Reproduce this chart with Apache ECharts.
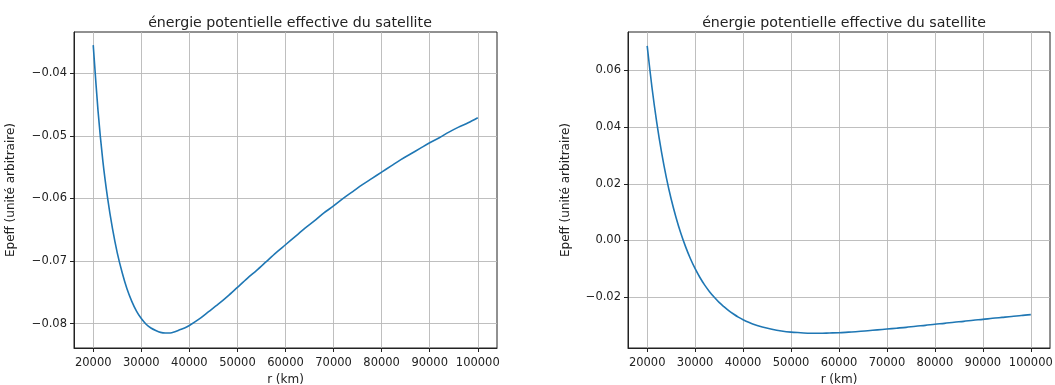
<!DOCTYPE html>
<html>
<head>
<meta charset="utf-8">
<script src="https://cdn.jsdelivr.net/npm/echarts@6/dist/echarts.min.js"></script>
<style>
  html, body { margin: 0; padding: 0; background: #fff; }
  #chart { width: 1055px; height: 385px; }
</style>
</head>
<body>
<div id="chart"></div>
<script>
const FONT = 'DejaVu Sans, sans-serif'

// r (km)
const rKm = [
  20000, 21000, 22000, 23000, 24000, 25000, 26000, 27000, 28000, 29000, 30000,
  31000, 32000, 33000, 34000, 35000, 36000, 37000, 38000, 39000, 40000,
  42000, 44000, 46000, 48000, 50000, 52000, 54000, 56000, 58000, 60000,
  62000, 64000, 66000, 68000, 70000, 72000, 74000, 76000, 78000, 80000,
  82000, 84000, 86000, 88000, 90000, 92000, 94000, 96000, 98000, 100000,
]
// Epeff, graphique de gauche
const epeffLeft = [
  -0.0355, -0.0460, -0.0540, -0.0600, -0.0648, -0.0687, -0.0718, -0.0744, -0.0764, -0.0780, -0.0792,
  -0.0801, -0.0807, -0.0811, -0.0814, -0.0815, -0.0815, -0.0813, -0.0810, -0.0807, -0.0803,
  -0.0793, -0.0781, -0.0769, -0.0756, -0.0742, -0.0728, -0.0715, -0.0701, -0.0687, -0.0674,
  -0.0661, -0.0648, -0.0636, -0.0623, -0.0612, -0.0600, -0.0589, -0.0578, -0.0568, -0.0558,
  -0.0548, -0.0538, -0.0529, -0.0520, -0.0511, -0.0503, -0.0494, -0.0486, -0.0479, -0.0471,
]
// Epeff, graphique de droite
const epeffRight = [
  0.0687, 0.0540, 0.0416, 0.0311, 0.0222, 0.0146, 0.0082, 0.0026, -0.0022, -0.0064, -0.0100,
  -0.0131, -0.0158, -0.0181, -0.0201, -0.0219, -0.0234, -0.0248, -0.0260, -0.0271, -0.0280,
  -0.0295, -0.0306, -0.0314, -0.0320, -0.0324, -0.0326, -0.0328, -0.0328, -0.0327, -0.0326,
  -0.0324, -0.0322, -0.0319, -0.0316, -0.0313, -0.0310, -0.0307, -0.0303, -0.0300, -0.0296,
  -0.0293, -0.0289, -0.0286, -0.0282, -0.0279, -0.0275, -0.0272, -0.0269, -0.0265, -0.0262,
]

const xTicks = [20000, 30000, 40000, 50000, 60000, 70000, 80000, 90000, 100000]
const yTicksLeft = [-0.08, -0.07, -0.06, -0.05, -0.04]
const yTicksRight = [-0.02, 0.0, 0.02, 0.04, 0.06]

const TITLE = 'énergie potentielle effective du satellite'
const X_NAME = 'r (km)'
const Y_NAME = 'Epeff (unité arbitraire)'

const fmtY = (v) => v.toFixed(2).replace('-', '\u2212')

const grids = [
  { left: 74, top: 32, width: 423, height: 316 },
  { left: 628, top: 32, width: 422, height: 316 },
]

const makeX = (gridIndex) => ({
  type: 'value',
  gridIndex,
  min: 16000,
  max: 104000,
  name: X_NAME,
  nameLocation: 'middle',
  nameGap: 26,
  nameTextStyle: { fontFamily: FONT, fontSize: 12, color: '#222' },
  axisLine: { show: true, onZero: false, lineStyle: { color: '#222', width: 1 } },
  axisTick: { show: true, customValues: xTicks, length: 4, lineStyle: { color: '#222' } },
  axisLabel: { customValues: xTicks, fontFamily: FONT, fontSize: 11.5, color: '#222', margin: 9, formatter: (v) => String(v) },
  splitLine: { show: true, lineStyle: { color: '#b8b8b8', width: 0.9 } },
})

const makeY = (gridIndex, min, max, ticks, nameGap) => ({
  type: 'value',
  gridIndex,
  min,
  max,
  name: Y_NAME,
  nameLocation: 'middle',
  nameGap,
  nameTextStyle: { fontFamily: FONT, fontSize: 12, color: '#222' },
  axisLine: { show: true, onZero: false, lineStyle: { color: '#222', width: 1 } },
  axisTick: { show: true, customValues: ticks, length: 4, lineStyle: { color: '#222' } },
  axisLabel: { customValues: ticks, fontFamily: FONT, fontSize: 11.5, color: '#222', margin: 7, formatter: fmtY },
  splitLine: { show: true, lineStyle: { color: '#b8b8b8', width: 0.9 } },
})

const chart = echarts.init(document.getElementById('chart'), null, { renderer: 'canvas' })

chart.setOption({
  animation: false,
  backgroundColor: '#fff',
  title: [
    { text: TITLE, left: 285, top: 11, textAlign: 'center', textStyle: { fontFamily: FONT, fontSize: 14.2, fontWeight: 'normal', color: '#222' } },
    { text: TITLE, left: 839, top: 11, textAlign: 'center', textStyle: { fontFamily: FONT, fontSize: 14.2, fontWeight: 'normal', color: '#222' } },
  ],
  grid: grids.map((g) => ({
    ...g,
    show: true,
    outerBoundsMode: 'none',
    containLabel: false,
    borderColor: '#222',
    borderWidth: 1,
    backgroundColor: 'transparent',
  })),
  xAxis: [makeX(0), makeX(1)],
  yAxis: [
    makeY(0, -0.0839, -0.0334, yTicksLeft, 57),
    makeY(1, -0.0380, 0.0736, yTicksRight, 56),
  ],
  series: [
    {
      type: 'line',
      xAxisIndex: 0,
      yAxisIndex: 0,
      data: rKm.map((r, i) => [r, epeffLeft[i]]),
      showSymbol: false,
      smooth: 0.3,
      lineStyle: { color: '#1f77b4', width: 1.6 },
    },
    {
      type: 'line',
      xAxisIndex: 1,
      yAxisIndex: 1,
      data: rKm.map((r, i) => [r, epeffRight[i]]),
      showSymbol: false,
      smooth: 0.3,
      lineStyle: { color: '#1f77b4', width: 1.6 },
    },
  ],
})
</script>
</body>
</html>
